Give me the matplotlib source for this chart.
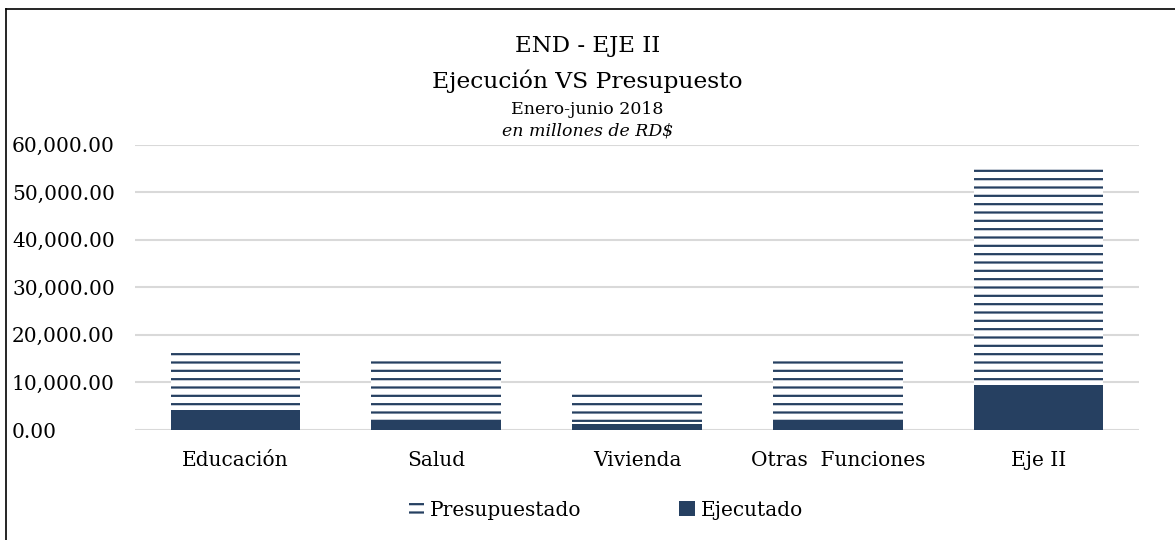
import numpy as np
import matplotlib.pyplot as plt
from matplotlib.lines import Line2D

categories = ["Educación", "Salud", "Vivienda", "Otras  Funciones", "Eje II"]
presupuestado = [16200, 14500, 7850, 14500, 54900]
ejecutado = [4300, 2150, 1200, 2200, 9550]
yticks = [0, 10000, 20000, 30000, 40000, 50000, 60000]

navy = "#264061"
plt.rcParams["font.family"] = "DejaVu Serif"
plt.rcParams["hatch.linewidth"] = 1.6

fig = plt.figure(figsize=(11.75, 5.4), dpi=100)
ax = fig.add_axes([135 / 1175, 1 - 430 / 540, (1139 - 135) / 1175, (430 - 144.7) / 540])

x = np.arange(len(categories))
w = 0.645
ax.bar(x, presupuestado, w, facecolor="white", edgecolor=navy, hatch="--",
       linewidth=0, label="Presupuestado", zorder=2)
ax.bar(x, ejecutado, w, color=navy, linewidth=0, label="Ejecutado", zorder=3)

ax.set_xlim(-0.5, len(categories) - 0.5)
ax.set_ylim(0, 60000)
ax.set_yticks(yticks)
ax.set_yticklabels([f"{v:,.2f}" for v in yticks])
ax.set_xticks(x)
ax.set_xticklabels(categories)
ax.tick_params(length=0, labelsize=14.5, colors="#000000")
ax.tick_params(axis="x", pad=15)
for lab in ax.get_yticklabels():
    lab.set_horizontalalignment("left")
    lab.set_x(-123 / (1139 - 135))
    lab.set_transform(ax.get_yaxis_transform())
ax.grid(axis="y", color="#d9d9d9", linewidth=1.5, zorder=0)
ax.set_axisbelow(True)
for s in ax.spines.values():
    s.set_visible(False)

# titles
fig.text(0.5, 1 - 46 / 540, "END - EJE II", ha="center", va="center", fontsize=16.5)
fig.text(0.5, 1 - 81 / 540, "Ejecución VS Presupuesto", ha="center", va="center", fontsize=16.8)
fig.text(0.5, 1 - 110 / 540, "Enero-junio 2018", ha="center", va="center", fontsize=12.5)
fig.text(0.5, 1 - 131 / 540, "en millones de RD$", ha="center", va="center",
         fontsize=12.5, style="italic")

ax.legend(loc="center", bbox_to_anchor=(606 / 1175, 1 - 510 / 540), bbox_transform=fig.transFigure,
          ncol=2, frameon=False, fontsize=14.5, handlelength=0.75, handleheight=0.8,
          handletextpad=0.3, columnspacing=4.85)

# outer frame (left and top visible)
fig.add_artist(Line2D([6 / 1175, 6 / 1175], [0, 1 - 9 / 540], color="black", linewidth=1.2,
                      transform=fig.transFigure))
fig.add_artist(Line2D([6 / 1175, 1], [1 - 9 / 540, 1 - 9 / 540], color="black", linewidth=1.2,
                      transform=fig.transFigure))

fig.savefig("out.png", dpi=100)
